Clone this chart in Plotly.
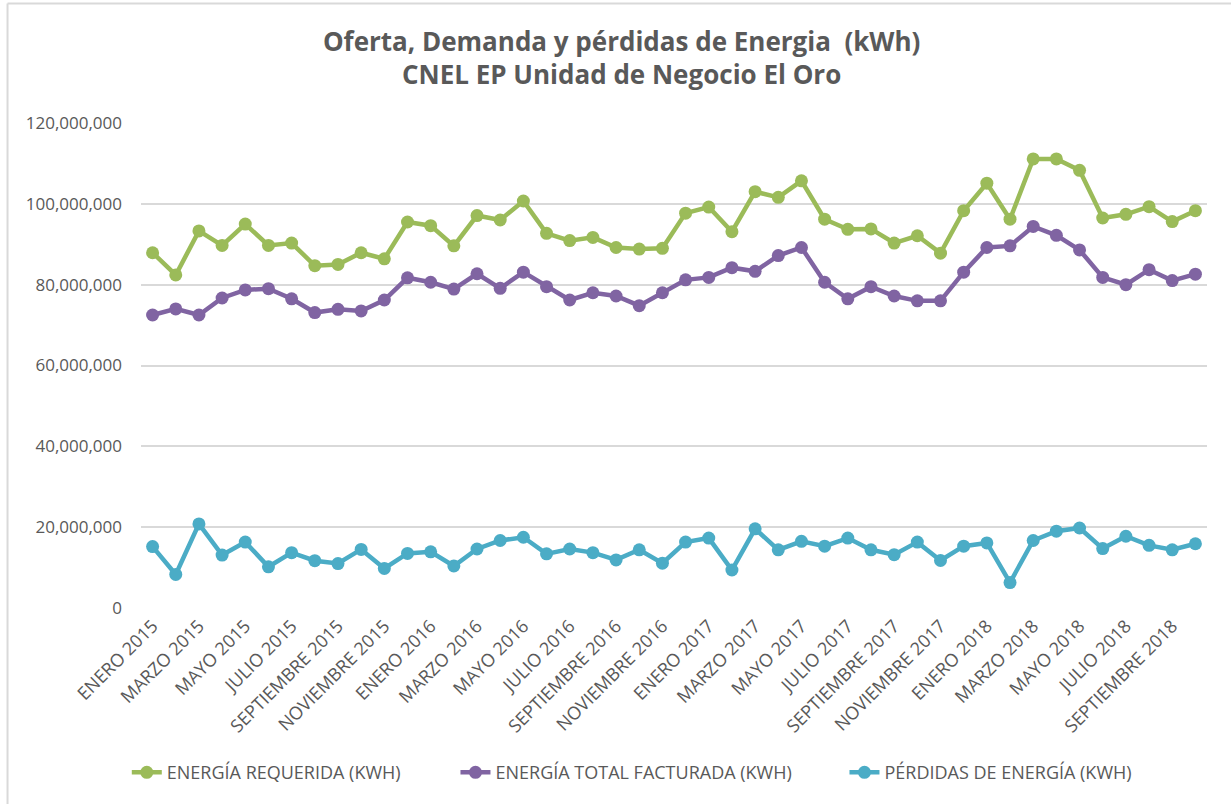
import plotly.graph_objects as go

meses = ["ENERO", "FEBRERO", "MARZO", "ABRIL", "MAYO", "JUNIO", "JULIO", "AGOSTO",
         "SEPTIEMBRE", "OCTUBRE", "NOVIEMBRE", "DICIEMBRE"]
categorias = [f"{m} {a}" for a in (2015, 2016, 2017, 2018) for m in meses][:46]

energia_requerida = [87.9, 82.4, 93.3, 89.7, 95.0, 89.7, 90.3, 84.7, 85.0, 87.9, 86.4, 95.5,
                     94.6, 89.6, 97.1, 96.0, 100.7, 92.7, 90.9, 91.7, 89.2, 88.8, 89.0, 97.7,
                     99.2, 93.1, 103.0, 101.6, 105.7, 96.2, 93.7, 93.8, 90.3, 92.1, 87.8, 98.3,
                     105.1, 96.2, 111.1, 111.1, 108.3, 96.5, 97.4, 99.3, 95.6, 98.3]
energia_facturada = [72.5, 74.0, 72.5, 76.7, 78.7, 79.0, 76.5, 73.1, 73.9, 73.5, 76.2, 81.7,
                     80.6, 78.9, 82.7, 79.1, 83.1, 79.5, 76.2, 78.0, 77.2, 74.8, 78.0, 81.2,
                     81.8, 84.2, 83.3, 87.2, 89.2, 80.6, 76.5, 79.5, 77.2, 76.0, 76.0, 83.1,
                     89.2, 89.6, 94.4, 92.2, 88.6, 81.8, 80.0, 83.7, 81.0, 82.6]
perdidas = [15.2, 8.3, 20.8, 13.1, 16.3, 10.2, 13.7, 11.7, 11.0, 14.5, 9.8, 13.5,
            13.9, 10.4, 14.6, 16.7, 17.5, 13.4, 14.6, 13.7, 11.9, 14.4, 11.1, 16.3,
            17.3, 9.4, 19.6, 14.4, 16.5, 15.3, 17.3, 14.4, 13.2, 16.3, 11.75, 15.3,
            16.1, 6.3, 16.7, 19.0, 19.8, 14.7, 17.75, 15.5, 14.4, 15.9]

series = [
    ("ENERGÍA REQUERIDA (KWH)", energia_requerida, "#9BBB59", "legend"),
    ("ENERGÍA TOTAL FACTURADA (KWH)", energia_facturada, "#8064A2", "legend2"),
    ("PÉRDIDAS DE ENERGÍA (KWH)", perdidas, "#4BACC6", "legend3"),
]

y_ticks = [0, 20e6, 40e6, 60e6, 80e6, 100e6, 120e6]
y_ticktext = ["0", "20,000,000", "40,000,000", "60,000,000", "80,000,000", "100,000,000", "120,000,000"]

FONT = "Open Sans"
GRAY = "#595959"

fig = go.Figure()
for nombre, vals, color, leg in series:
    fig.add_trace(go.Scatter(
        x=categorias, y=[v * 1e6 for v in vals], name=nombre,
        mode="lines+markers",
        line=dict(color=color, width=4.5),
        marker=dict(color=color, size=13),
        legend=leg, showlegend=True,
    ))


def legend_box(xpos):
    return dict(orientation="h", x=xpos, xanchor="left", xref="container",
                y=0.039, yanchor="middle", yref="container",
                font=dict(family=FONT, size=18, color=GRAY),
                bgcolor="rgba(0,0,0,0)")


fig.update_layout(
    width=1231, height=804,
    margin=dict(l=141, r=24, t=123, b=196),
    paper_bgcolor="white", plot_bgcolor="white",
    font=dict(family=FONT, color=GRAY, size=16),
    title=dict(
        text="Oferta, Demanda y pérdidas de Energia  (kWh)<br>CNEL EP Unidad de Negocio El Oro",
        x=0.505, xanchor="center", y=0.937, yanchor="middle",
        font=dict(family=FONT, size=26, color=GRAY, weight="bold"),
    ),
    showlegend=True,
    legend=legend_box(0.103),
    legend2=legend_box(0.370),
    legend3=legend_box(0.686),
    xaxis=dict(
        type="category", range=[-0.5, 45.5],
        tickmode="array", tickvals=categorias[::2], ticktext=categorias[::2],
        tickangle=-45, showgrid=False, zeroline=False, showline=False,
        tickfont=dict(family=FONT, size=18, color=GRAY),
        ticklabelstandoff=3,
    ),
    yaxis=dict(
        range=[0, 120e6], tickmode="array", tickvals=y_ticks, ticktext=y_ticktext,
        showgrid=True, gridcolor="#D9D9D9", gridwidth=1.5, zeroline=False, showline=False,
        tickfont=dict(family=FONT, size=17, color=GRAY),
        ticklabelstandoff=18,
    ),
    shapes=[
        dict(type="line", xref="paper", yref="paper", x0=-0.1252, x1=1.03, y0=1.2464, y1=1.2464,
             line=dict(color="#D9D9D9", width=2)),
        dict(type="line", xref="paper", yref="paper", x0=-0.1252, x1=-0.1252, y0=1.2464, y1=-0.41,
             line=dict(color="#D9D9D9", width=2)),
    ],
)

fig.write_html("out.html", config={"displayModeBar": False},
               post_script="document.body.style.margin='0';")
